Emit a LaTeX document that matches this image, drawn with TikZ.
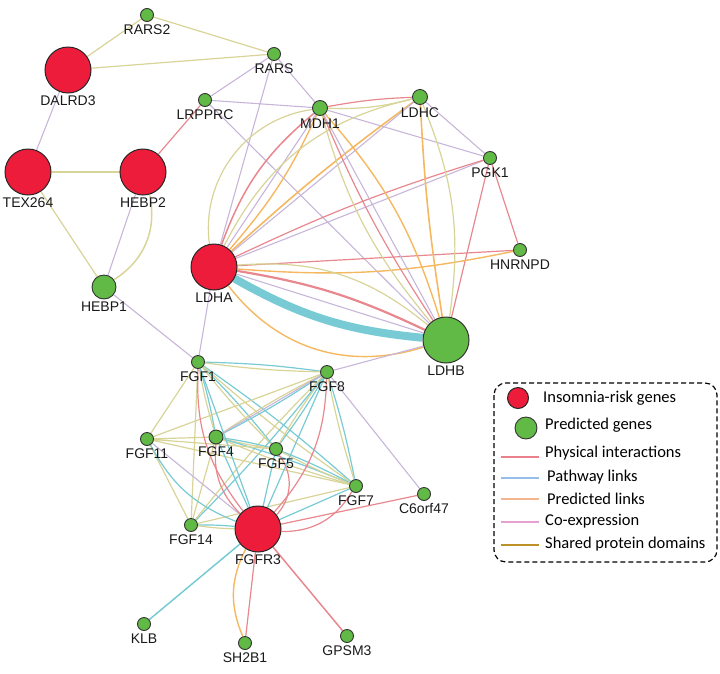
\documentclass[tikz,border=0pt]{standalone}
\usepackage{fontspec}
\setmainfont{Liberation Sans}
\newfontfamily\legfont{Carlito}
\usetikzlibrary{backgrounds}
\definecolor{rfill}{RGB}{236,28,58}
\definecolor{gfill}{RGB}{98,186,70}
\definecolor{cphys}{RGB}{232,135,142}
\definecolor{cpath}{RGB}{120,202,212}
\definecolor{cpred}{RGB}{245,184,96}
\definecolor{ccoex}{RGB}{200,182,218}
\definecolor{cdom}{RGB}{216,212,152}
\definecolor{lphys}{RGB}{234,128,140}
\definecolor{lpath}{RGB}{150,190,230}
\definecolor{lpred}{RGB}{244,182,140}
\definecolor{lcoex}{RGB}{230,160,210}
\definecolor{ldom}{RGB}{190,145,40}
\tikzset{
  every label/.style={font=\fontsize{14}{15}\selectfont, text=black!90, inner sep=2.5pt},
  gn/.style={circle,draw=black!80,line width=0.9pt,fill=gfill,inner sep=0pt,minimum size=13pt},
  rn/.style={circle,draw=black!85,line width=1pt,fill=rfill,inner sep=0pt,minimum size=46pt},
  ph/.style={draw=cphys,line width=1.2pt},
  pw/.style={draw=cpath,line width=1.2pt},
  pr/.style={draw=cpred,line width=1.4pt},
  ce/.style={draw=ccoex,line width=1.1pt},
  sd/.style={draw=cdom,line width=1.2pt},
  legtxt/.style={anchor=west,font=\legfont\fontsize{16.5}{17}\selectfont,inner sep=0pt},
  legline/.style={line width=1.8pt},
}
\newcommand\pairPS[2]{\draw[pw] (#1) to[bend left=3] (#2); \draw[sd] (#1) to[bend right=3] (#2);}
\begin{document}
\begin{tikzpicture}[x=1pt,y=-1pt]
\useasboundingbox (0,0) rectangle (720,673);
% nodes
\node[gn,label=below:RARS2] (RARS2) at (147,15) {};
\node[gn,label=below:RARS] (RARS) at (274,54) {};
\node[rn,label=below:DALRD3] (DALRD3) at (68,70) {};
\node[gn,label=below:LRPPRC] (LRPPRC) at (205,100) {};
\node[gn,minimum size=15pt,label=below:MDH1] (MDH1) at (320,108) {};
\node[gn,minimum size=15pt,label=below:LDHC] (LDHC) at (420,97) {};
\node[gn,label=below:PGK1] (PGK1) at (490,158) {};
\node[rn,label=below:TEX264] (TEX264) at (28,172) {};
\node[rn,label=below:HEBP2] (HEBP2) at (143,172) {};
\node[gn,minimum size=24pt,label=below:HEBP1] (HEBP1) at (104,287) {};
\node[rn,label=below:LDHA] (LDHA) at (214,267) {};
\node[gn,label=below:HNRNPD] (HNRNPD) at (520,250) {};
\node[gn,minimum size=46pt,line width=1pt,label=below:LDHB] (LDHB) at (446,340) {};
\node[gn,label=below:FGF1] (FGF1) at (198,362) {};
\node[gn,label=below:FGF8] (FGF8) at (327,372) {};
\node[gn,label=below:FGF11] (FGF11) at (147,439) {};
\node[gn,minimum size=14pt,label=below:FGF4] (FGF4) at (216,437) {};
\node[gn,label=below:FGF5] (FGF5) at (276,449) {};
\node[gn,label=below:FGF7] (FGF7) at (356,486) {};
\node[gn,label=below:FGF14] (FGF14) at (191,525) {};
\node[rn,label=below:FGFR3] (FGFR3) at (258,529) {};
\node[gn,label=below:C6orf47] (C6orf47) at (424,494) {};
\node[gn,label=below:KLB] (KLB) at (144,624) {};
\node[gn,label=below:SH2B1] (SH2B1) at (245,643) {};
\node[gn,label=below:GPSM3] (GPSM3) at (347,636) {};
% edges
\begin{scope}[on background layer]
\draw[sd] (RARS2)--(DALRD3) (RARS2)--(RARS) (DALRD3)--(RARS);
\draw[ce] (DALRD3)--(TEX264);
\draw[sd,line width=1.6pt] (TEX264)--(HEBP2);
\draw[sd] (TEX264)--(HEBP1);
\draw[ce] (HEBP2)--(HEBP1);
\draw[sd,line width=1.5pt] (HEBP2) to[bend left=35] (HEBP1);
\draw[ph] (HEBP2)--(LRPPRC);
\draw[ce] (HEBP1)--(FGF1) (LDHA)--(FGF1);
\draw[ce] (RARS)--(LRPPRC) (RARS)--(MDH1) (RARS)--(LDHA) (LRPPRC)--(MDH1) (LRPPRC)--(LDHB);
\draw[ph] (MDH1) to[bend left=4] (LDHC);
\draw[sd] (MDH1) to[bend right=8] (LDHC);
\draw[ce] (MDH1)--(PGK1) (LDHC)--(PGK1);
\draw[ph] (PGK1)--(HNRNPD) (PGK1)--(LDHB);
\draw[ce] (PGK1)--(LDHA);
\draw[ph] (PGK1) to[bend right=4] (LDHA);
\draw[ph] (HNRNPD)--(LDHA);
\draw[pr] (HNRNPD) to[bend left=8] (LDHA);
\draw[sd] (LDHA) to[bend left=45] (MDH1);
\draw[ph,line width=1.5pt] (LDHA) to[bend left=15] (MDH1);
\draw[ce] (LDHA)--(MDH1);
\draw[pr] (LDHA) to[bend right=8] (MDH1);
\draw[sd] (LDHA) to[bend left=25] (LDHC);
\draw[pr,line width=1.6pt] (LDHA) to[bend left=3] (LDHC);
\draw[ce] (LDHA)--(LDHC);
\draw[pw,line width=8pt] (LDHA) to[bend right=12] (LDHB);
\draw[ph,line width=2.2pt] (LDHA) to[bend left=8] (LDHB);
\draw[pr] (LDHA) to[bend right=35] (LDHB);
\draw[sd] (LDHA) to[bend left=22] (LDHB);
\draw[ce] (LDHA)--(LDHB);
\draw[ph] (MDH1) to[bend right=5] (LDHB);
\draw[ce] (MDH1)--(LDHB);
\draw[pr] (MDH1) to[bend left=12] (LDHB);
\draw[sd] (MDH1) to[bend right=12] (LDHB);
\draw[pr,line width=1.6pt] (LDHC) to[bend right=3] (LDHB);
\draw[sd] (LDHC) to[bend left=15] (LDHB);
% FGF cluster
\pairPS{FGF1}{FGF8}
\pairPS{FGF1}{FGF4}
\pairPS{FGF1}{FGF5}
\pairPS{FGF1}{FGF7}
\pairPS{FGF8}{FGF4}
\pairPS{FGF8}{FGF5}
\pairPS{FGF8}{FGF7}
\pairPS{FGF8}{FGF14}
\pairPS{FGF4}{FGF5}
\pairPS{FGF4}{FGF7}
\pairPS{FGF5}{FGF7}
\pairPS{FGF14}{FGFR3}
\draw[sd] (FGF1)--(FGF11) (FGF1)--(FGF14) (FGF8)--(FGF11) (FGF11)--(FGF4)
  (FGF11)--(FGF5) (FGF11)--(FGF7) (FGF11)--(FGF14) (FGF4)--(FGF14) (FGF7)--(FGF14);
\draw[ce] (FGF4)--(FGF8);
\draw[ce] (FGF11)--(FGFR3);
\draw[pw] (FGF11) to[bend right=20] (FGFR3);
\draw[pw] (FGF1)--(FGFR3) (FGF4)--(FGFR3) (FGF5)--(FGFR3) (FGF8)--(FGFR3) (FGF7)--(FGFR3);
\draw[ph] (FGF1) to[bend right=20] (FGFR3);
\draw[ph] (FGF4) to[bend right=25] (FGFR3);
\draw[ph] (FGF8) to[bend left=20] (FGFR3);
\draw[ph] (FGF5) to[bend left=40] (FGFR3);
\draw[ph] (FGF7) to[bend left=30] (FGFR3);
\draw[ce] (FGF8)--(LDHB) (FGF8)--(C6orf47);
\draw[ph] (FGFR3)--(C6orf47);
\draw[pw,line width=1.5pt] (FGFR3)--(KLB);
\draw[ph] (FGFR3)--(SH2B1);
\draw[pr] (FGFR3) to[bend right=25] (SH2B1);
\draw[ph,line width=1.5pt] (FGFR3)--(GPSM3);
\end{scope}
% legend
\draw[dash pattern=on 5pt off 3pt, line width=1.2pt, rounded corners=12pt] (494,383) rectangle (717,562);
\node[rn,minimum size=21pt] (lr) at (518,398) {};
\node[gn,minimum size=22pt] (lg) at (526,428) {};
\node[legtxt] (t1) at (543,398) {Insomnia-risk genes};
\node[legtxt] (t2) at (545,425) {Predicted genes};
\node[legtxt] (t3) at (545,453) {Physical interactions};
\node[legtxt] (t4) at (547,477) {Pathway links};
\node[legtxt] (t5) at (547,499) {Predicted links};
\node[legtxt] (t6) at (545,521) {Co-expression};
\node[legtxt] (t7) at (545,544) {Shared protein domains};
\coordinate (a3) at (501,457); \coordinate (b3) at (539,457);
\coordinate (a4) at (501,478); \coordinate (b4) at (539,478);
\coordinate (a5) at (501,499); \coordinate (b5) at (539,499);
\coordinate (a6) at (501,522); \coordinate (b6) at (539,522);
\coordinate (a7) at (501,545); \coordinate (b7) at (539,545);
\draw[legline,lphys] (a3)--(b3);
\draw[legline,lpath] (a4)--(b4);
\draw[legline,lpred] (a5)--(b5);
\draw[legline,lcoex] (a6)--(b6);
\draw[legline,ldom] (a7)--(b7);
\end{tikzpicture}
\end{document}
